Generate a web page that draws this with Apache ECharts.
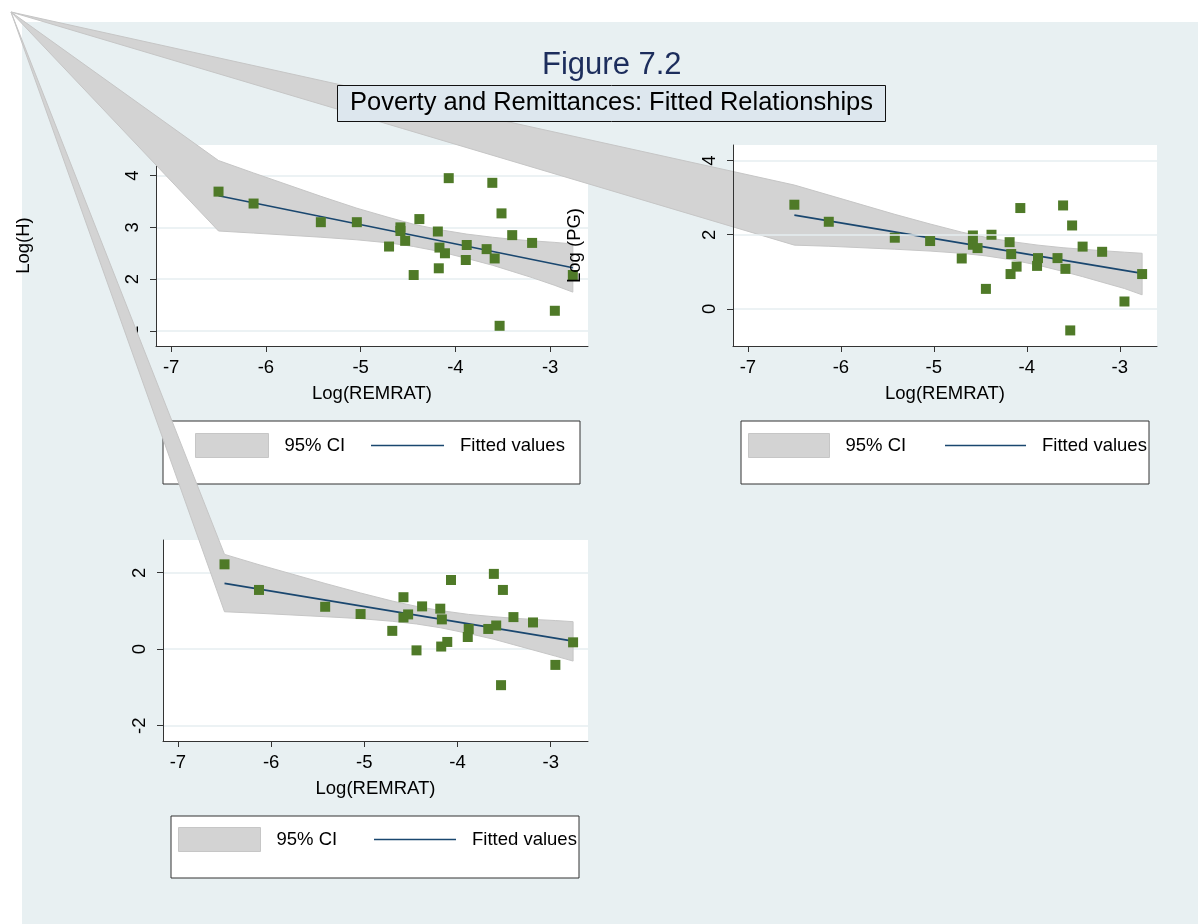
<!DOCTYPE html>
<html>
<head>
<meta charset="utf-8">
<script src="https://cdn.jsdelivr.net/npm/echarts@6/dist/echarts.min.js"></script>
<style>
  html, body { margin: 0; padding: 0; background: #fff; }
  #chart { width: 1198px; height: 924px; }
</style>
</head>
<body>
<div id="chart"></div>
<script>
// Log(REMRAT), same observations in all three panels
var remrat = [-6.50, -6.13, -5.42, -5.04, -4.70, -4.58, -4.58, -4.53, -4.44, -4.38, -4.185, -4.175, -4.168,
              -4.11, -4.07, -3.88, -3.89, -3.67, -3.61, -3.585, -3.513, -3.533, -3.40, -3.19, -2.95, -2.76];
var logH   = [3.69, 3.46, 3.10, 3.10, 2.63, 3.00, 2.93, 2.74, 2.08, 3.16, 2.92, 2.21, 2.61,
              2.50, 3.95, 2.66, 2.37, 2.58, 3.86, 2.40, 3.27, 1.10, 2.85, 2.70, 1.39, 2.08];
var logPG  = [2.81, 2.35, 1.92, 1.83, 1.36, 1.98, 1.73, 1.64, 0.54, 2.00, 1.80, 0.94, 1.48,
              1.14, 2.72, 1.37, 1.16, 1.37, 2.79, 1.08, 2.25, -0.58, 1.68, 1.54, 0.20, 0.94];
var logP3  = [2.22, 1.55, 1.11, 0.92, 0.48, 1.36, 0.83, 0.91, -0.03, 1.12, 1.06, 0.07, 0.78,
              0.19, 1.81, 0.53, 0.32, 0.53, 1.97, 0.62, 1.55, -0.94, 0.84, 0.70, -0.41, 0.18];

// 95% CI band edges
var bandX   = [-6.5, -6.13, -5.42, -5.04, -4.7, -4.44, -4.18, -3.88, -3.61, -3.4, -3.19, -2.95, -2.76];
var hUpper  = [4.29, 4.05, 3.60, 3.37, 3.19, 3.06, 2.96, 2.87, 2.81, 2.77, 2.74, 2.71, 2.68];
var hLower  = [2.93, 2.89, 2.81, 2.76, 2.70, 2.63, 2.54, 2.40, 2.27, 2.15, 2.03, 1.88, 1.75];
var pgUpper = [3.34, 3.07, 2.55, 2.29, 2.07, 1.93, 1.82, 1.72, 1.65, 1.61, 1.57, 1.53, 1.50];
var pgLower = [1.72, 1.69, 1.61, 1.56, 1.50, 1.43, 1.33, 1.18, 1.01, 0.87, 0.72, 0.55, 0.38];
var p3Upper = [2.48, 2.21, 1.72, 1.47, 1.26, 1.12, 1.01, 0.91, 0.85, 0.81, 0.78, 0.75, 0.72];
var p3Lower = [0.98, 0.94, 0.85, 0.80, 0.73, 0.66, 0.56, 0.41, 0.26, 0.12, -0.02, -0.18, -0.31];

// fitted values (ends of the line)
var fitX  = [-6.5, -2.76];
var fitH  = [3.61, 2.22];
var fitPG = [2.53, 0.96];
var fitP3 = [1.72, 0.21];

var xTicks  = [-7, -6, -5, -4, -3];
var hTicks  = [1, 2, 3, 4];
var pgTicks = [0, 2, 4];
var p3Ticks = [-2, 0, 2];

// the stray corner vertex every CI polygon runs to (page pixels)
var STRAY = [11, 12];

var FONT = 'Liberation Sans, Arial, sans-serif';
var AXIS_COL = '#333';

function xAxisOf(i) {
	return {
		gridIndex: i, type: 'value', min: -7.16, max: -2.6, z: 3,
		name: 'Log(REMRAT)', nameLocation: 'middle', nameGap: 38,
		nameTextStyle: { fontFamily: FONT, fontSize: 18.5, color: '#000' },
		axisLine: { show: true, onZero: false, lineStyle: { color: AXIS_COL, width: 1 } },
		axisTick: { show: true, length: 6, customValues: xTicks, lineStyle: { color: AXIS_COL } },
		axisLabel: { customValues: xTicks, margin: 12, fontFamily: FONT, fontSize: 18.5, color: '#000' },
		splitLine: { show: false }
	};
}

function yAxisOf(i, min, max, ticks, name, gap, z) {
	return {
		gridIndex: i, type: 'value', min: min, max: max, z: z,
		name: name, nameLocation: 'middle', nameRotate: 90, nameGap: gap,
		nameTextStyle: { fontFamily: FONT, fontSize: 18.5, color: '#000' },
		axisLine: { show: true, onZero: false, lineStyle: { color: AXIS_COL, width: 1 } },
		axisTick: { show: true, length: 6, customValues: ticks, lineStyle: { color: AXIS_COL } },
		axisLabel: { customValues: ticks, rotate: 90, margin: 14, fontFamily: FONT, fontSize: 18.5, color: '#000' },
		splitLine: { show: true, lineStyle: { color: '#e6eef0', width: 1.5 } }
	};
}

// CI band drawn as one polygon, closed through the stray vertex
function bandSeries(i, upper, lower) {
	var rows = bandX.map(function (x, k) { return [x, upper[k], lower[k]]; });
	return {
		type: 'custom', name: '95% CI', xAxisIndex: i, yAxisIndex: i, z: 5, clip: false,
		itemStyle: { color: '#d3d3d3' },
		data: rows,
		renderItem: function (params, api) {
			if (params.dataIndex !== 0) return;
			var pts = [STRAY.slice()];
			for (var k = 0; k < bandX.length; k++) pts.push(api.coord([bandX[k], upper[k]]));
			for (var k = bandX.length - 1; k >= 0; k--) pts.push(api.coord([bandX[k], lower[k]]));
			return {
				type: 'polygon',
				shape: { points: pts },
				style: { fill: '#d3d3d3', stroke: '#c6c6c6', lineWidth: 1 }
			};
		}
	};
}

function fitSeries(i, fit) {
	return {
		type: 'line', name: 'Fitted values', xAxisIndex: i, yAxisIndex: i, z: 6,
		symbol: 'none', animation: false,
		lineStyle: { color: '#1a476f', width: 1.7 },
		itemStyle: { color: '#1a476f' },
		data: fitX.map(function (x, k) { return [x, fit[k]]; })
	};
}

function dotSeries(i, ys) {
	return {
		type: 'scatter', name: 'obs', xAxisIndex: i, yAxisIndex: i, z: 7,
		symbol: 'rect', symbolSize: 10,
		itemStyle: { color: '#4f7a28', opacity: 1 },
		data: remrat.map(function (x, k) { return [x, ys[k]]; })
	};
}

function legendOf(left, top, w, gap) {
	return {
		left: left, top: top, padding: 0, itemWidth: w, itemHeight: 24, itemGap: gap,
		selectedMode: false, z: 4,
		textStyle: { fontFamily: FONT, fontSize: 18.5, color: '#000', padding: [0, 0, 0, 11] },
		data: [
			{ name: '95% CI', icon: 'rect', itemStyle: { color: '#d3d3d3', borderColor: '#c6c6c6', borderWidth: 1 } },
			{ name: 'Fitted values', itemStyle: { opacity: 0, borderWidth: 0 }, lineStyle: { color: '#1a476f', width: 1.7, opacity: 1 } }
		]
	};
}

function box(x, y, w, h) {
	return {
		type: 'rect', z: 1, silent: true,
		shape: { x: x, y: y, width: w, height: h },
		style: { fill: '#fff', stroke: '#333', lineWidth: 1 }
	};
}

var chart = echarts.init(document.getElementById('chart'), null, { renderer: 'canvas' });

var option = {
	animation: false,
	backgroundColor: '#fff',
	textStyle: { fontFamily: FONT },
	title: [
		{
			text: 'Figure 7.2', left: 542, top: 50, z: 8, padding: 0,
			textStyle: { fontFamily: FONT, fontSize: 31, fontWeight: 'normal', color: '#1c2d5c' }
		},
		{
			text: 'Poverty and Remittances: Fitted Relationships', left: 337, top: 85, z: 8,
			padding: [5, 13, 6, 13], backgroundColor: '#dde7ee', borderColor: '#111', borderWidth: 1,
			textStyle: { fontFamily: FONT, fontSize: 25.5, lineHeight: 26, fontWeight: 'normal', color: '#000' }
		}
	],
	graphic: [
		{
			type: 'rect', z: -10, silent: true,
			shape: { x: 22, y: 22, width: 1176, height: 902 },
			style: { fill: '#e8f0f2' }
		},
		box(163, 421, 417, 63),
		box(741, 421, 408, 63),
		box(171, 816, 408, 62)
	],
	grid: [
		{ left: 156, top: 145, width: 432, height: 201, show: true, backgroundColor: '#fff', borderWidth: 0, z: 1 },
		{ left: 733, top: 145, width: 424, height: 201, show: true, backgroundColor: '#fff', borderWidth: 0, z: 1 },
		{ left: 163, top: 540, width: 425, height: 201, show: true, backgroundColor: '#fff', borderWidth: 0, z: 1 }
	],
	xAxis: [xAxisOf(0), xAxisOf(1), xAxisOf(2)],
	yAxis: [
		yAxisOf(0, 0.71, 4.59, hTicks, 'Log(H)', 123, 3),
		yAxisOf(1, -1.0, 4.42, pgTicks, 'Log (PG)', 149, 8),
		yAxisOf(2, -2.40, 2.856, p3Ticks, '', 40, 3)
	],
	legend: [
		legendOf(195, 433, 73, 25),
		legendOf(748, 433, 81, 38),
		legendOf(178, 827, 82, 36)
	],
	series: [
		bandSeries(0, hUpper, hLower), fitSeries(0, fitH), dotSeries(0, logH),
		bandSeries(1, pgUpper, pgLower), fitSeries(1, fitPG), dotSeries(1, logPG),
		bandSeries(2, p3Upper, p3Lower), fitSeries(2, fitP3), dotSeries(2, logP3)
	]
};

chart.setOption(option);
</script>
</body>
</html>
